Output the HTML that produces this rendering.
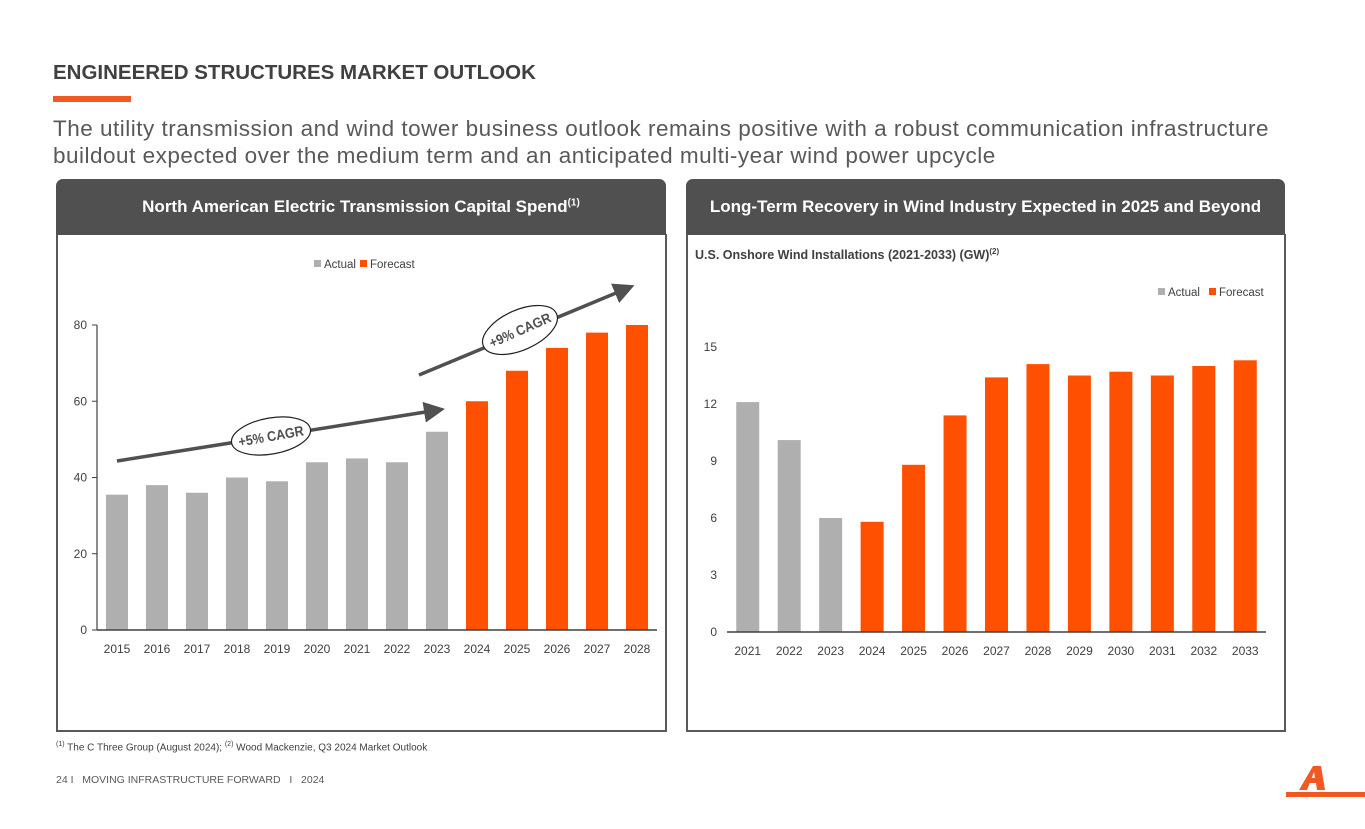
<!DOCTYPE html>
<html><head><meta charset="utf-8"><style>
body{margin:0;width:1365px;height:829px;background:#fff;font-family:"Liberation Sans",sans-serif;position:relative;overflow:hidden}
.abs{position:absolute}
.hdr{background:#505050;color:#fff;font-weight:bold;font-size:17px;text-align:center;line-height:56px;border-radius:7px 7px 0 0}
.panel{border:2px solid #595959;border-top:none;box-sizing:border-box}
</style></head><body>
<div class="abs" style="left:53px;top:61px;font-size:20.5px;font-weight:bold;color:#404040">ENGINEERED STRUCTURES MARKET OUTLOOK</div>
<div class="abs" style="left:53px;top:96px;width:78px;height:6px;background:#f05a22"></div>
<div class="abs" style="left:53px;top:115px;font-size:22.5px;color:#595959;line-height:27px;width:1310px;white-space:nowrap;letter-spacing:0.5px">The utility transmission and wind tower business outlook remains positive with a robust communication infrastructure<br>buildout expected over the medium term and an anticipated multi-year wind power upcycle</div>
<div class="abs hdr" style="left:56px;top:179px;width:610px;height:56px">North American Electric Transmission Capital Spend<sup style="font-size:10px;line-height:0">(1)</sup></div>
<div class="abs panel" style="left:56px;top:234px;width:611px;height:498px"></div>
<div class="abs hdr" style="left:686px;top:179px;width:599px;height:56px">Long-Term Recovery in Wind Industry Expected in 2025 and Beyond</div>
<div class="abs panel" style="left:686px;top:234px;width:600px;height:498px"></div>
<div class="abs" style="left:695px;top:247px;font-size:12.5px;font-weight:bold;color:#404040">U.S. Onshore Wind Installations (2021-2033) (GW)<sup style="font-size:8px">(2)</sup></div>
<svg class="abs" style="left:0;top:0" width="1365" height="829" id="svg">
<defs><marker id="ah" markerWidth="6" markerHeight="6" refX="4" refY="3" orient="auto"><path d="M0,0L6,3L0,6z" fill="#505050"/></marker></defs>
<g id="left"></g><g id="right"></g>
<line x1="117" y1="461" x2="438" y2="410" stroke="#505050" stroke-width="3.5" marker-end="url(#ah)"/>
<ellipse cx="271" cy="436" rx="40" ry="18" transform="rotate(-10 271 436)" fill="#fff" stroke="#222" stroke-width="1.2"/>
<text x="271" y="441" text-anchor="middle" font-size="14" font-weight="bold" fill="#505050" textLength="66" lengthAdjust="spacingAndGlyphs" transform="rotate(-10 271 436)">+5% CAGR</text>
<line x1="419" y1="375" x2="628" y2="288" stroke="#505050" stroke-width="3.5" marker-end="url(#ah)"/>
<ellipse cx="520" cy="330" rx="40" ry="20" transform="rotate(-24 520 330)" fill="#fff" stroke="#222" stroke-width="1.2"/>
<text x="520" y="335" text-anchor="middle" font-size="14" font-weight="bold" fill="#505050" textLength="66" lengthAdjust="spacingAndGlyphs" transform="rotate(-24 520 330)">+9% CAGR</text>
</svg>
<div class="abs" style="left:56px;top:741px;font-size:10px;color:#404040"><sup style="font-size:7px">(1)</sup> The C Three Group (August 2024); <sup style="font-size:7px">(2)</sup> Wood Mackenzie, Q3 2024 Market Outlook</div>
<div class="abs" style="left:56px;top:774px;font-size:10.5px;color:#595959">24 I &nbsp;&nbsp;MOVING INFRASTRUCTURE FORWARD &nbsp;&nbsp;I &nbsp;&nbsp;2024</div>
<svg class="abs" style="left:1285px;top:758px" width="80" height="42">
<path d="M14,32 L28,8 L36,8 L40,32 L32,32 L31,25 L24,25 L26,20 L30,20 L29,14 L22,32 Z" fill="#f05a22"/>
<rect x="1" y="34" width="79" height="5" fill="#f05a22"/>
</svg>
<script>
const leftCats=["2015","2016","2017","2018","2019","2020","2021","2022","2023","2024","2025","2026","2027","2028"];
const leftValues=[35.5,38,36,40,39,44,45,44,52,60,68,74,78,80];
const leftForecast=[0,0,0,0,0,0,0,0,0,1,1,1,1,1];
const leftTicks=[0,20,40,60,80];
const rightCats=["2021","2022","2023","2024","2025","2026","2027","2028","2029","2030","2031","2032","2033"];
const rightValues=[12.1,10.1,6.0,5.8,8.8,11.4,13.4,14.1,13.5,13.7,13.5,14.0,14.3];
const rightForecast=[0,0,0,1,1,1,1,1,1,1,1,1,1];
const rightTicks=[0,3,6,9,12,15];
const NS="http://www.w3.org/2000/svg";
function mk(g,tag,a,txt){const e=document.createElementNS(NS,tag);for(const k in a)e.setAttribute(k,a[k]);if(txt!==undefined)e.textContent=txt;g.appendChild(e);return e;}
function chart(gid,cats,vals,fc,ticks,o){
 const g=document.getElementById(gid);
 const y=v=>o.base-(v/o.max)*(o.base-o.top);
 const step=(o.x1-o.x0)/cats.length;
 const x=i=>o.x0+step*(i+0.5);
 ticks.forEach(t=>{
  const tl=mk(g,'text',{x:o.x0-10,y:y(t)+4,'text-anchor':'end','font-size':12,fill:'#404040'},t);
  
  
  if(o.tickMarks){mk(g,'line',{x1:o.x0-5,x2:o.x0,y1:y(t),y2:y(t),stroke:'#404040'});}
 });
 vals.forEach((v,i)=>{
  const r=mk(g,'rect',{x:x(i)-o.bw/2,y:y(v),width:o.bw,height:o.base-y(v),fill:fc[i]?'#fe5000':'#afafaf'});
  
  
  const t=mk(g,'text',{x:x(i),y:o.base+23,'text-anchor':'middle','font-size':12,fill:'#404040'},cats[i]);
  
  
 });
 if(o.yAxis){const a=mk(g,'line',{x1:o.x0,x2:o.x0,y1:o.top,y2:o.base,stroke:'#404040','stroke-width':1.2});}
 const xa=mk(g,'line',{x1:o.x0,x2:o.x1,y1:o.base,y2:o.base,stroke:'#404040','stroke-width':1.5});
 
 
 const lg=mk(g,'g',{});
 
 
 mk(lg,'rect',{x:o.lx,y:o.ly-8,width:7,height:7,fill:'#afafaf'});
 mk(lg,'text',{x:o.lx+10,y:o.ly,'font-size':11.5,fill:'#404040'},'Actual');
 mk(lg,'rect',{x:o.lx+o.lg,y:o.ly-8,width:7,height:7,fill:'#fe5000'});
 mk(lg,'text',{x:o.lx+o.lg+10,y:o.ly,'font-size':11.5,fill:'#404040'},'Forecast');
}
chart('left',leftCats,leftValues,leftForecast,leftTicks,{x0:97,x1:657,base:630,top:325,max:80,bw:22,tickMarks:true,yAxis:true,lx:314,ly:268,lg:46});
chart('right',rightCats,rightValues,rightForecast,rightTicks,{x0:727,x1:1266,base:632,top:347,max:15,bw:23,tickMarks:false,yAxis:false,lx:1158,ly:296,lg:51});
</script>
</body></html>
